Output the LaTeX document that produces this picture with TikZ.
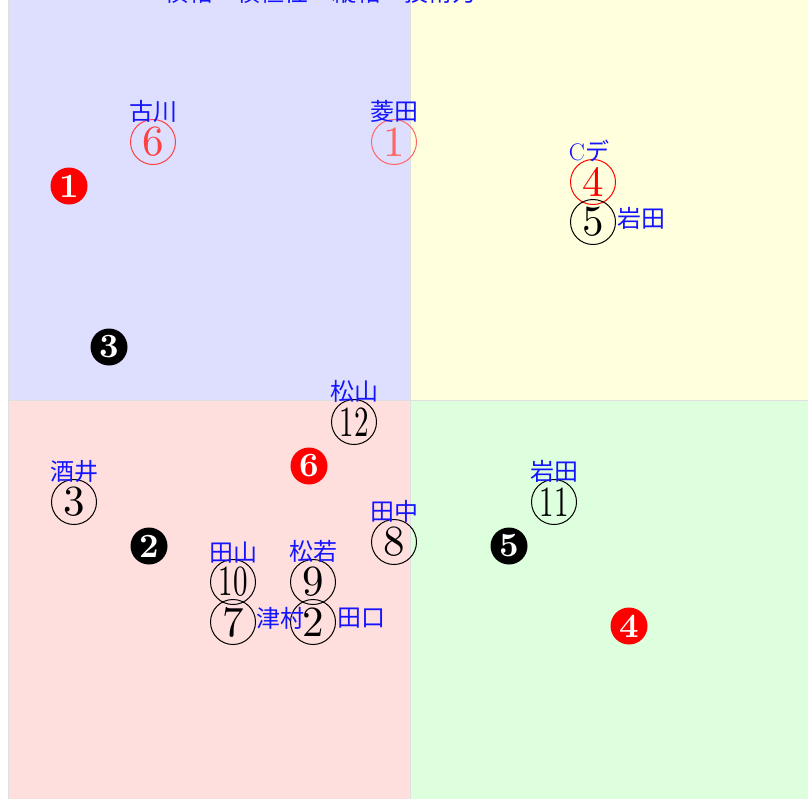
\documentclass[tikz,border=0pt]{standalone}
\usepackage{fontspec}
\newfontfamily\cjk{Noto Sans CJK JP}
\usepackage{tikz}
\usetikzlibrary{positioning}
\usepackage{xcolor}
\definecolor{quadblue}{RGB}{222,222,255}
\definecolor{quadyellow}{RGB}{255,255,222}
\definecolor{quadpink}{RGB}{255,222,222}
\definecolor{quadgreen}{RGB}{222,255,222}
\definecolor{namecol}{RGB}{20,20,255}
\newcommand{\bignum}[1]{\scalebox{4.3}{#1}}
\newcommand{\pairnum}[1]{\scalebox{2.9}[4.3]{#1}}
\newcommand{\dotnum}[1]{\scalebox{3.4}{\bfseries #1}}
\tikzset{
  numcirc/.style={circle,draw,line width=1pt,minimum size=45pt,inner sep=0pt,
    font=\fontsize{10}{10}\selectfont},
  numdot/.style={circle,fill,minimum size=37pt,inner sep=0pt,text=white,
    font=\fontsize{10}{10}\selectfont},
  namelabel/.style={text=namecol,inner sep=0pt,font=\fontsize{24}{24}\selectfont\cjk},
  quad/.style={draw=gray!25,line width=0.4pt}
}

\begin{document}
\begin{tikzpicture}[x=1pt,y=-1pt]
\useasboundingbox (0,0) rectangle (808,798);
% quadrants
\fill[quad,fill=quadblue]   (8,-20) rectangle (410,400);
\fill[quad,fill=quadyellow] (410,-20) rectangle (830,400);
\fill[quad,fill=quadpink]   (8,400) rectangle (410,820);
\fill[quad,fill=quadgreen]  (410,400) rectangle (830,820);
\node[namelabel,anchor=south] (title) at (320,4) {横軸：積極性　縦軸：技術力};

% open circles
\node[numcirc,draw=red!75,text=red!75] (n6) at (153,142) {\bignum{6}};
\node[numcirc,draw=red!60,text=red!60] (n1) at (394,142) {\bignum{1}};
\node[numcirc,draw=red,text=red] (n4) at (593,182) {\bignum{4}};
\node[numcirc] (n5) at (593,222) {\bignum{5}};
\node[numcirc] (n12) at (354,422) {\pairnum{12}};
\node[numcirc] (n3) at (74,502) {\bignum{3}};
\node[numcirc] (n11) at (554,502) {\pairnum{11}};
\node[numcirc] (n8) at (394,542) {\bignum{8}};
\node[numcirc] (n10) at (233,582) {\pairnum{10}};
\node[numcirc] (n9) at (313,582) {\bignum{9}};
\node[numcirc] (n7) at (233,622) {\bignum{7}};
\node[numcirc] (n2) at (313,622) {\bignum{2}};

% names
\node[namelabel,above=-4pt of n6] (l6) {古川};
\node[namelabel,above=-4pt of n1] (l1) {菱田};
\node[namelabel,above=-3pt of n4,xshift=-4pt] (l4) {\rmfamily C\cjk デ};
\node[namelabel,right=1pt of n5,yshift=4pt] (l5) {岩田};
\node[namelabel,above=-4pt of n12] (l12) {松山};
\node[namelabel,above=-4pt of n3] (l3) {酒井};
\node[namelabel,above=-4pt of n11] (l11) {岩田};
\node[namelabel,above=-4pt of n8] (l8) {田中};
\node[namelabel,above=-4pt of n10] (l10) {田山};
\node[namelabel,above=-4pt of n9] (l9) {松若};
\node[namelabel,right=0pt of n7,yshift=4pt] (l7) {津村};
\node[namelabel,right=1pt of n2,yshift=4pt] (l2) {田口};

% filled markers
\node[numdot,fill=red] (d1) at (69,186) {\dotnum{1}};
\node[numdot] (d3) at (109,347) {\dotnum{3}};
\node[numdot,fill=red] (d6) at (309,466) {\dotnum{6}};
\node[numdot] (d2) at (149,546) {\dotnum{2}};
\node[numdot] (d5) at (509,546) {\dotnum{5}};
\node[numdot,fill=red] (d4) at (629,626) {\dotnum{4}};
\end{tikzpicture}
\end{document}
